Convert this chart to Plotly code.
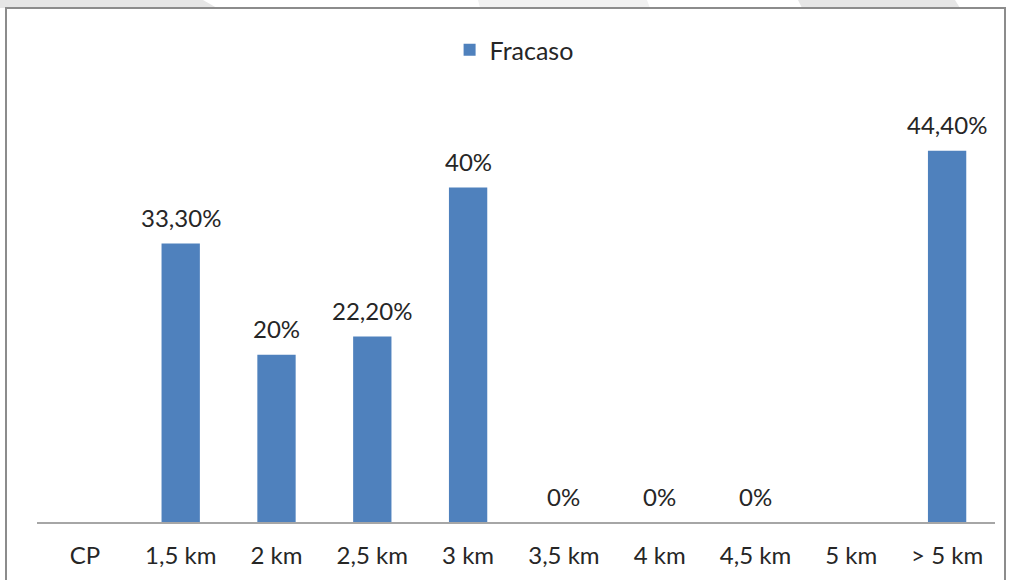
import plotly.graph_objects as go

categories = ["CP", "1,5 km", "2 km", "2,5 km", "3 km", "3,5 km", "4 km", "4,5 km", "5 km", "> 5 km"]
fracaso = [None, 33.3, 20, 22.2, 40, 0, 0, 0, None, 44.4]
labels = ["", "33,30%", "20%", "22,20%", "40%", "0%", "0%", "0%", "", "44,40%"]

W, H = 1012, 580
FONT = "Lato"
BAR = "#4F81BD"
TXT = "#262626"

fig = go.Figure()
fig.add_trace(go.Bar(
    x=categories, y=fracaso, name="Fracaso",
    marker=dict(color=BAR, line=dict(width=0)),
    width=0.4, showlegend=True,
))

for c, v, t in zip(categories, fracaso, labels):
    if v is None or t == "":
        continue
    fig.add_annotation(x=c, y=v, text=t, showarrow=False, xref="x", yref="y",
                       yanchor="middle", yshift=26,
                       font=dict(family=FONT, size=24, color=TXT))

def px_x(x):
    return x / W

def px_y(y):
    return 1 - y / H

shapes = []
# faint watermark stripes at top
for (a, b, c, d, col) in [(0, 203, 217, 0, "#e6e6e6"), (478, 647, 650, 480, "#f1f1f1"), (798, 955, 960, 802, "#e6e6e6")]:
    shapes.append(dict(type="path", xref="paper", yref="paper", layer="below",
                       path=f"M {px_x(a)},{px_y(0)} L {px_x(b)},{px_y(0)} L {px_x(c)},{px_y(8)} L {px_x(d)},{px_y(8)} Z",
                       fillcolor=col, line=dict(width=0)))
# frame
shapes.append(dict(type="rect", xref="paper", yref="paper",
                   x0=px_x(6), x1=px_x(1005), y0=-0.05, y1=px_y(8),
                   line=dict(color="#8c8c8c", width=2), fillcolor="rgba(0,0,0,0)"))

fig.update_layout(
    width=W, height=H,
    margin=dict(l=0, r=0, t=0, b=0),
    paper_bgcolor="white", plot_bgcolor="white",
    font=dict(family=FONT, size=24, color=TXT),
    shapes=shapes,
    bargap=0.6,
    legend=dict(orientation="h", x=0.508, xanchor="center", y=px_y(50), yanchor="middle",
                font=dict(family=FONT, size=25, color=TXT), itemwidth=30,
                bgcolor="rgba(0,0,0,0)"),
    xaxis=dict(domain=[px_x(37), px_x(995)], showline=True, linecolor="#a6a6a6", linewidth=2,
               showgrid=False, zeroline=False, ticks="", ticklabelstandoff=11,
               tickfont=dict(family=FONT, size=24, color=TXT), fixedrange=True),
    yaxis=dict(domain=[px_y(522), px_y(104)], range=[0, 50], visible=False,
               showgrid=False, zeroline=False, fixedrange=True),
)

fig.write_html("out.html", config={"displayModeBar": False},
               post_script="document.body.style.margin='0';document.body.style.overflow='hidden';")
